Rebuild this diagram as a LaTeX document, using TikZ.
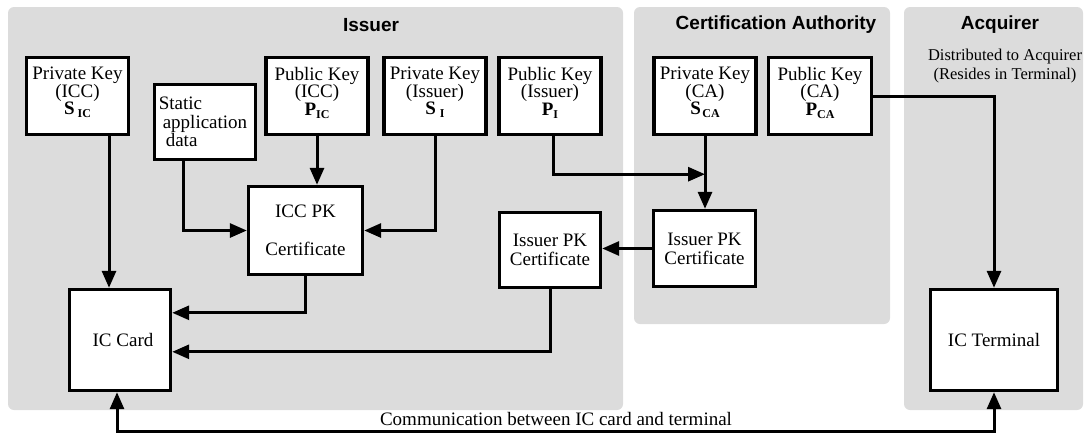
\documentclass[tikz,border=0pt]{standalone}
\usepackage{fontspec}
\setmainfont{Liberation Serif}
\newfontfamily\hdfont{Liberation Sans}
\usetikzlibrary{arrows.meta}
\definecolor{panelgray}{RGB}{220,220,220}
\newcommand\ksym[3]{{\bfseries #1\hspace{#3}\raisebox{-3pt}{\fontsize{12}{12}\selectfont #2}}}
\begin{document}
\lineskiplimit=-30pt\relax
\begin{tikzpicture}[x=1pt,y=-1pt,
  panel/.style={fill=panelgray, rounded corners=6pt},
  blk/.style={draw=black, line width=3.4pt, fill=white, inner sep=0pt, align=center,
    font=\fontsize{19}{17.5}\selectfont},
  keybox/.style={blk, minimum width=102pt, minimum height=77pt, text depth=10pt},
  certbox/.style={blk, minimum width=101pt, minimum height=76pt, font=\fontsize{19}{19}\selectfont},
  cardbox/.style={blk, minimum height=101pt, font=\fontsize{19}{19}\selectfont},
  hd/.style={font=\hdfont\bfseries\fontsize{19}{22}\selectfont, inner sep=0pt},
  lbl/.style={font=\fontsize{19}{22}\selectfont, inner sep=0pt},
  arr/.style={line width=3pt, -{Triangle[length=17pt,width=14pt]}},
  dblarr/.style={line width=3pt, {Triangle[length=17pt,width=14pt]}-{Triangle[length=17pt,width=14pt]}}
]
\useasboundingbox (0,0) rectangle (1087,437);
% panels
\path[panel] (8,7) rectangle (623,410);
\path[panel] (634,7) rectangle (890,324);
\path[panel] (904,7) rectangle (1083,410);
% headings
\node[hd] (hIssuer) at (371,25) {Issuer};
\node[hd] (hCA) at (776,25) {Certification Authority};
\node[hd] (hAcq) at (1000,25) {Acquirer};
\node[lbl, align=center, font=\fontsize{16.5}{19}\selectfont] (dist) at (1005,66) {Distributed to Acquirer\\(Resides in Terminal)};
% key boxes
\node[keybox] (privicc) at (77.5,96) {Private Key\\(ICC)\\\ksym{S}{IC}{3pt}};
\node[blk, minimum width=101pt, minimum height=75pt, align=left, font=\fontsize{19}{18.5}\selectfont] (sad) at (205,122) {\hspace*{-4pt}Static\\application\\\hspace*{3pt}data};
\node[keybox] (pubicc) at (317,96) {Public Key\\(ICC)\\\ksym{P}{IC}{0pt}};
\node[keybox] (privis) at (435,96) {Private Key\\(Issuer)\\\ksym{S}{I}{4pt}};
\node[keybox] (pubis) at (550,96) {Public Key\\(Issuer)\\\ksym{P}{I}{0pt}};
\node[keybox] (privca) at (705,96) {Private Key\\(CA)\\\ksym{S}{CA}{1.5pt}};
\node[keybox, minimum width=103pt] (pubca) at (820,96) {Public Key\\(CA)\\\ksym{P}{CA}{0pt}};
% certificates
\node[blk, minimum width=114pt, minimum height=88pt, font=\fontsize{19}{18}\selectfont] (icccert) at (305.5,230.5) {ICC PK\\[20pt]Certificate};
\node[certbox, minimum height=75pt] (iscert) at (550,250) {Issuer PK\\Certificate};
\node[certbox, minimum width=102pt] (cacert) at (704.5,248.5) {Issuer PK\\Certificate};
% card and terminal
\node[cardbox, minimum width=101pt] (iccard) at (120,340) {\hspace*{6pt}IC Card};
\node[cardbox, minimum width=127pt] (term) at (994,340) {IC Terminal};
% connectors
\draw[arr] ([xshift=-11pt]iccard.north |- privicc.south) -- ([xshift=-11pt]iccard.north);
\draw[arr] ([xshift=-22pt]sad.south) |- (icccert.west);
\draw[arr] (pubicc.south) -- (pubicc.south |- icccert.north);
\draw[arr] (privis.south) |- (icccert.east);
\draw[arr] (icccert.south) |- ([yshift=-25pt]iccard.north east);
\draw[arr] (iscert.south) |- ([yshift=-64pt]iccard.north east);
\draw[arr] (cacert.west) -- (cacert.west -| iscert.east);
\path (privca.south) ++(0,38) coordinate (join);
\draw[arr] ([xshift=3pt]pubis.south) |- (join);
\draw[arr] (privca.south) -- (privca.south |- cacert.north);
\draw[arr] (pubca.east) -| (term.north);
\coordinate (cbot) at (550,431);
\draw[dblarr] ([xshift=-3pt]iccard.south) |- (cbot) -| (term.south);
\node[lbl] (comm) at (556,419) {Communication between IC card and terminal};
\end{tikzpicture}
\end{document}
